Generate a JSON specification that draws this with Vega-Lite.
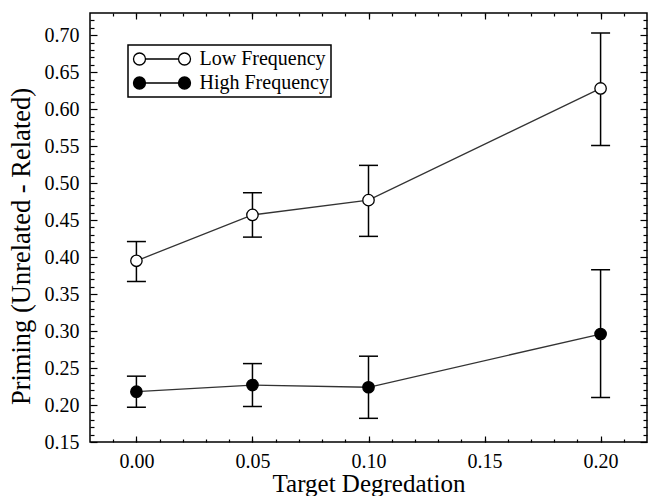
{
  "$schema": "https://vega.github.io/schema/vega-lite/v6.json",
  "width": 557,
  "height": 429,
  "autosize": "none",
  "padding": {"left": 90, "top": 13, "right": 2, "bottom": 54},
  "background": "white",
  "data": {
    "values": [
      {"series": "Low Frequency", "x": 0.0, "y": 0.395, "lo": 0.367, "hi": 0.421},
      {"series": "Low Frequency", "x": 0.05, "y": 0.457, "lo": 0.427, "hi": 0.487},
      {"series": "Low Frequency", "x": 0.1, "y": 0.477, "lo": 0.428, "hi": 0.524},
      {"series": "Low Frequency", "x": 0.2, "y": 0.628, "lo": 0.551, "hi": 0.703},
      {"series": "High Frequency", "x": 0.0, "y": 0.218, "lo": 0.197, "hi": 0.239},
      {"series": "High Frequency", "x": 0.05, "y": 0.227, "lo": 0.198, "hi": 0.256},
      {"series": "High Frequency", "x": 0.1, "y": 0.224, "lo": 0.182, "hi": 0.266},
      {"series": "High Frequency", "x": 0.2, "y": 0.296, "lo": 0.21, "hi": 0.383}
    ]
  },
  "resolve": {"axis": {"x": "independent", "y": "independent"}, "scale": {"x": "shared", "y": "shared"}},
  "layer": [
    {
      "mark": {"type": "rule", "color": "black", "strokeWidth": 1.5},
      "encoding": {
        "x": {"field": "x", "type": "quantitative",
          "scale": {"domain": [-0.02, 0.22], "nice": false, "zero": false},
          "axis": {"orient": "bottom", "values": [0, 0.05, 0.1, 0.15, 0.2], "format": ".2f", "ticks": false, "domain": false, "grid": false, "labelPadding": 9, "labelFlush": false, "labelOverlap": false, "title": "Target Degredation", "titlePadding": 0}},
        "y": {"field": "lo", "type": "quantitative",
          "scale": {"domain": [0.15, 0.73], "nice": false, "zero": false},
          "axis": {"orient": "left", "values": [0.15, 0.2, 0.25, 0.3, 0.35, 0.4, 0.45, 0.5, 0.55, 0.6, 0.65, 0.7], "format": ".2f", "ticks": false, "domain": false, "grid": false, "labelPadding": 11, "labelFlush": false, "labelOverlap": false, "title": "Priming (Unrelated - Related)", "titlePadding": 9, "titleFontSize": 26.5, "titleY": 233}},
        "y2": {"field": "hi"}
      }
    },
    {
      "mark": {"type": "tick", "orient": "horizontal", "size": 19, "thickness": 1.5, "color": "black", "opacity": 1},
      "encoding": {
        "x": {"field": "x", "type": "quantitative",
          "axis": {"orient": "bottom", "values": [0, 0.05, 0.1, 0.15, 0.2], "labels": false, "tickSize": -6, "domain": false, "grid": false, "title": null}},
        "y": {"field": "lo", "type": "quantitative",
          "axis": {"orient": "left", "values": [0.15, 0.2, 0.25, 0.3, 0.35, 0.4, 0.45, 0.5, 0.55, 0.6, 0.65, 0.7], "labels": false, "tickSize": -7, "domain": false, "grid": false, "title": null}}
      }
    },
    {
      "mark": {"type": "tick", "orient": "horizontal", "size": 19, "thickness": 1.5, "color": "black", "opacity": 1},
      "encoding": {
        "x": {"field": "x", "type": "quantitative",
          "axis": {"orient": "bottom", "values": [-0.01, 0, 0.01, 0.02, 0.03, 0.04, 0.05, 0.06, 0.07, 0.08, 0.09, 0.1, 0.11, 0.12, 0.13, 0.14, 0.15, 0.16, 0.17, 0.18, 0.19, 0.2, 0.21], "labels": false, "tickSize": -3, "domain": false, "grid": false, "title": null}},
        "y": {"field": "hi", "type": "quantitative",
          "axis": {"orient": "left", "values": [0.16, 0.17, 0.18, 0.19, 0.21, 0.22, 0.23, 0.24, 0.26, 0.27, 0.28, 0.29, 0.31, 0.32, 0.33, 0.34, 0.36, 0.37, 0.38, 0.39, 0.41, 0.42, 0.43, 0.44, 0.46, 0.47, 0.48, 0.49, 0.51, 0.52, 0.53, 0.54, 0.56, 0.57, 0.58, 0.59, 0.61, 0.62, 0.63, 0.64, 0.66, 0.67, 0.68, 0.69, 0.71, 0.72], "labels": false, "tickSize": -4, "domain": false, "grid": false, "title": null}}
      }
    },
    {
      "mark": {"type": "line", "strokeWidth": 1.3, "color": "#333333"},
      "encoding": {
        "x": {"field": "x", "type": "quantitative",
          "axis": {"orient": "top", "values": [0, 0.05, 0.1, 0.15, 0.2], "labels": false, "tickSize": -6, "domain": false, "grid": false, "title": null}},
        "y": {"field": "y", "type": "quantitative",
          "axis": {"orient": "right", "values": [0.15, 0.2, 0.25, 0.3, 0.35, 0.4, 0.45, 0.5, 0.55, 0.6, 0.65, 0.7], "labels": false, "tickSize": -7, "domain": false, "grid": false, "title": null}},
        "detail": {"field": "series", "type": "nominal"}
      }
    },
    {
      "mark": {"type": "point", "filled": true, "size": 130, "stroke": "black", "strokeWidth": 1.3, "opacity": 1},
      "encoding": {
        "x": {"field": "x", "type": "quantitative",
          "axis": {"orient": "top", "values": [-0.01, 0, 0.01, 0.02, 0.03, 0.04, 0.05, 0.06, 0.07, 0.08, 0.09, 0.1, 0.11, 0.12, 0.13, 0.14, 0.15, 0.16, 0.17, 0.18, 0.19, 0.2, 0.21], "labels": false, "tickSize": -3, "domain": false, "grid": false, "title": null}},
        "y": {"field": "y", "type": "quantitative",
          "axis": {"orient": "right", "values": [0.16, 0.17, 0.18, 0.19, 0.21, 0.22, 0.23, 0.24, 0.26, 0.27, 0.28, 0.29, 0.31, 0.32, 0.33, 0.34, 0.36, 0.37, 0.38, 0.39, 0.41, 0.42, 0.43, 0.44, 0.46, 0.47, 0.48, 0.49, 0.51, 0.52, 0.53, 0.54, 0.56, 0.57, 0.58, 0.59, 0.61, 0.62, 0.63, 0.64, 0.66, 0.67, 0.68, 0.69, 0.71, 0.72], "labels": false, "tickSize": -4, "domain": false, "grid": false, "title": null}},
        "fill": {"field": "series", "type": "nominal",
          "scale": {"domain": ["Low Frequency", "High Frequency"], "range": ["white", "black"]},
          "legend": {
            "title": null, "orient": "none", "legendX": 38, "legendY": 32,
            "symbolType": "M-0.58,0L0.58,0M-0.58,0A0.21,0.21,0,1,1,-1,0A0.21,0.21,0,1,1,-0.58,0ZM1,0A0.21,0.21,0,1,1,0.58,0A0.21,0.21,0,1,1,1,0Z",
            "symbolSize": 3249, "symbolStrokeColor": "black", "symbolStrokeWidth": 1.3, "symbolOpacity": 1, "symbolOffset": 2.5,
            "clipHeight": 24, "rowPadding": 0, "padding": 2, "labelOffset": 8,
            "labelFont": "Liberation Serif", "labelFontSize": 20, "labelColor": "black",
            "labelExpr": "datum.label + '\u00a0\u00a0\u00a0'",
            "strokeColor": "black", "fillColor": "white"
          }}
      }
    }
  ],
  "config": {
    "view": {"stroke": "black", "strokeWidth": 1.5},
    "axis": {
      "labelFont": "Liberation Serif", "labelFontSize": 20, "labelColor": "black",
      "titleFont": "Liberation Serif", "titleFontSize": 25, "titleFontWeight": "normal", "titleColor": "black",
      "tickColor": "black", "tickWidth": 1.2
    },
    "legend": {"strokeWidth": 1.5}
  }
}
